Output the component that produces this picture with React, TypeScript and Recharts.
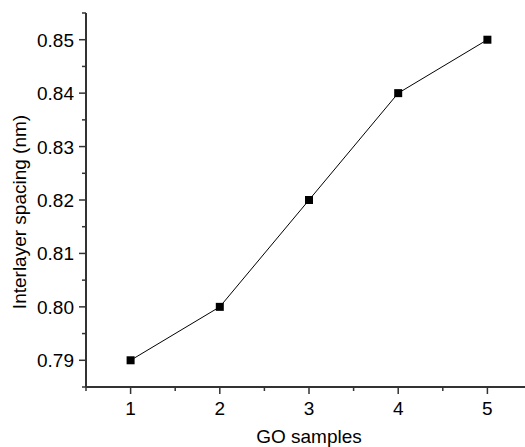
import React from 'react';
import { LineChart, Line, XAxis, YAxis } from 'recharts';

const samples = [1, 2, 3, 4, 5];
const spacing = [0.79, 0.8, 0.82, 0.84, 0.85];
const xTicks = [0.5, 1, 1.5, 2, 2.5, 3, 3.5, 4, 4.5, 5, 5.5];
const yTicks = [0.785, 0.79, 0.795, 0.8, 0.805, 0.81, 0.815, 0.82, 0.825, 0.83, 0.835, 0.84, 0.845, 0.85, 0.855];

const data = samples.map((s, i) => ({ sample: s, spacing: spacing[i] }));

const FONT = '"Liberation Sans", Arial, sans-serif';
const AXIS = '#333';
const FS = 19;

const isMajor = (v: number, step: number) => Math.abs(v / step - Math.round(v / step)) < 1e-6;

function BottomTick(props: any) {
  const { x, y, payload } = props;
  const major = isMajor(payload.value, 1);
  return (
    <g>
      <line x1={x} x2={x} y1={y} y2={y + (major ? 7 : 4)} stroke={AXIS} strokeWidth={1.5} />
      {major && (
        <text x={x} y={y + 28} textAnchor="middle" fontSize={FS} fontFamily={FONT} fill="#000">
          {payload.value}
        </text>
      )}
    </g>
  );
}

function TopTick(props: any) {
  const { x, y } = props;
  return <line x1={x} x2={x} y1={y} y2={y - 2} stroke={AXIS} strokeWidth={1.5} />;
}

function LeftTick(props: any) {
  const { x, y, payload } = props;
  const major = isMajor(payload.value, 0.01);
  return (
    <g>
      <line x1={x} x2={x - (major ? 7 : 4)} y1={y} y2={y} stroke={AXIS} strokeWidth={1.5} />
      {major && (
        <text x={x - 12} y={y + 7} textAnchor="end" fontSize={FS} fontFamily={FONT} fill="#000">
          {payload.value.toFixed(2)}
        </text>
      )}
    </g>
  );
}

function YLabel() {
  return (
    <text x={26} y={212} transform="rotate(-90, 26, 212)" textAnchor="middle" fontSize={FS} fontFamily={FONT} fill="#000">
      Interlayer spacing (nm)
    </text>
  );
}

function Marker(props: any) {
  const { cx, cy } = props;
  if (cx == null || cy == null) return null;
  return <rect x={cx - 4} y={cy - 4} width={8} height={8} fill="#000" />;
}

export default function App() {
  return (
    <div style={{ position: 'absolute', left: 0, top: 0, width: 525, height: 447, overflow: 'hidden', background: '#fff' }}>
      <LineChart width={540} height={447} data={data} margin={{ top: 13, right: 8, bottom: 0, left: 0 }}>
        <XAxis
          dataKey="sample"
          type="number"
          domain={[0.5, 5.5]}
          ticks={xTicks}
          interval={0}
          tickSize={0}
          tickMargin={0}
          tickLine={false}
          tick={<BottomTick />}
          height={60}
          axisLine={{ stroke: AXIS, strokeWidth: 2 }}
          label={{ value: 'GO samples', position: 'insideBottom', offset: 4, fontSize: FS, fontFamily: FONT, fill: '#000' }}
        />
        <XAxis
          xAxisId="top"
          orientation="top"
          dataKey="sample"
          type="number"
          domain={[0.5, 5.5]}
          ticks={xTicks}
          interval={0}
          tickSize={0}
          tickMargin={0}
          tickLine={false}
          tick={<TopTick />}
          height={0}
          axisLine={{ stroke: AXIS, strokeWidth: 2 }}
        />
        <YAxis
          type="number"
          domain={[0.785, 0.855]}
          ticks={yTicks}
          interval={0}
          tickSize={0}
          tickMargin={0}
          tickLine={false}
          tick={<LeftTick />}
          width={86}
          axisLine={{ stroke: AXIS, strokeWidth: 2 }}
          label={<YLabel />}
        />
        <Line
          type="linear"
          dataKey="spacing"
          stroke="#000"
          strokeWidth={1}
          dot={<Marker />}
          activeDot={false}
          isAnimationActive={false}
        />
      </LineChart>
    </div>
  );
}
